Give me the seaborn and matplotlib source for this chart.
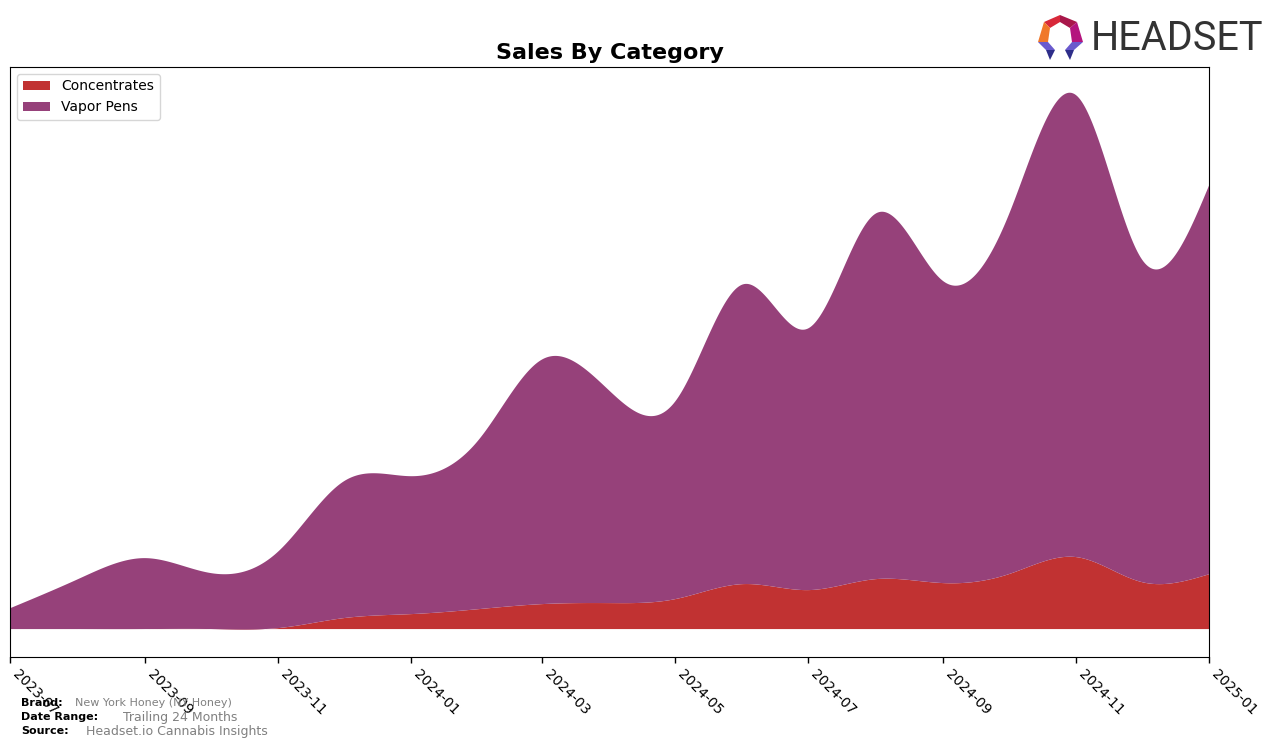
import numpy as np
import pandas as pd
import matplotlib
matplotlib.use("Agg")
import matplotlib.pyplot as plt
import matplotlib.dates as mdates
from matplotlib.patches import Polygon
import seaborn as sns

# ---------------- data ----------------
months = pd.date_range("2023-07-01", "2025-01-01", freq="MS")
concentrates = [0, 0, 0, 0, 1, 11, 15, 20, 25, 26, 30, 45, 39, 50, 46, 55, 72, 47, 55]
vapor_pens = [21, 50, 71, 56, 77, 137, 138, 170, 245, 212, 198, 300, 262, 366, 302, 360, 462, 323, 390]
series_names = ["Concentrates", "Vapor Pens"]
series_colors = ["#C13232", "#96417A"]

sns.set_style("white", rc={"axes.edgecolor": "black", "xtick.color": "black",
                           "xtick.bottom": True, "axes.linewidth": 1.0,
                           "text.color": "black", "axes.labelcolor": "black"})
plt.rcParams["font.family"] = ["DejaVu Sans"]


def natural_spline(x, y, xs):
    x = np.asarray(x, float)
    y = np.asarray(y, float)
    n = len(x)
    h = np.diff(x)
    A = np.zeros((n, n))
    b = np.zeros(n)
    A[0, 0] = 1
    A[-1, -1] = 1
    for i in range(1, n - 1):
        A[i, i - 1] = h[i - 1]
        A[i, i] = 2 * (h[i - 1] + h[i])
        A[i, i + 1] = h[i]
        b[i] = 3 * ((y[i + 1] - y[i]) / h[i] - (y[i] - y[i - 1]) / h[i - 1])
    c = np.linalg.solve(A, b)
    bb = np.zeros(n - 1)
    d = np.zeros(n - 1)
    for i in range(n - 1):
        bb[i] = (y[i + 1] - y[i]) / h[i] - h[i] * (2 * c[i] + c[i + 1]) / 3
        d[i] = (c[i + 1] - c[i]) / (3 * h[i])
    idx = np.clip(np.searchsorted(x, xs) - 1, 0, n - 2)
    dx = xs - x[idx]
    return y[idx] + bb[idx] * dx + c[idx] * dx ** 2 + d[idx] * dx ** 3


xnum = mdates.date2num(months)
xs = np.linspace(xnum[0], xnum[-1], 800)
conc_s = natural_spline(xnum, concentrates, xs)
vape_s = natural_spline(xnum, vapor_pens, xs)

fig = plt.figure(figsize=(12.76, 7.47), dpi=100)
ax = fig.add_axes([10 / 1276, 1 - 657 / 747, 1199 / 1276, 590 / 747])

ax.stackplot(xs, conc_s, vape_s, labels=series_names, colors=series_colors, linewidth=0)

top = (conc_s + vape_s).max()
ax.set_xlim(xnum[0], xnum[-1])
ax.set_ylim(-0.053 * top, 1.047 * top)
ax.set_yticks([])
ax.xaxis.set_major_locator(mdates.MonthLocator(bymonth=[1, 3, 5, 7, 9, 11]))
ax.xaxis.set_major_formatter(mdates.DateFormatter("%Y-%m"))
ax.tick_params(axis="x", length=4, width=1, labelsize=10, colors="black")
for lbl in ax.get_xticklabels():
    lbl.set_rotation(-45)
    lbl.set_ha("left")
    lbl.set_va("top")
for s in ax.spines.values():
    s.set_visible(True)
    s.set_color("black")

ax.set_title("Sales By Category", fontsize=16, fontweight="bold", pad=6, color="black")
ax.legend(loc="upper left", fontsize=10, frameon=True)

# footer
fig.text(21 / 1276, 1 - 703 / 747, "Brand:", fontsize=8, fontweight="bold", va="center")
fig.text(75 / 1276, 1 - 703 / 747, "New York Honey (NY Honey)", fontsize=8, color="gray", va="center")
fig.text(21 / 1276, 1 - 717 / 747, "Date Range:", fontsize=8, fontweight="bold", va="center")
fig.text(123 / 1276, 1 - 717 / 747, "Trailing 24 Months", fontsize=9, color="gray", va="center")
fig.text(21 / 1276, 1 - 731 / 747, "Source:", fontsize=8, fontweight="bold", va="center")
fig.text(86 / 1276, 1 - 731 / 747, "Headset.io Cannabis Insights", fontsize=9, color="gray", va="center")

# logo
fig.text(1091 / 1276, 1 - 39 / 747, "HEADSET", fontsize=28.5, color="#333333", va="center",
         ha="left", family=["Roboto", "DejaVu Sans"])


def P(pts):
    return [(px / 1276, 1 - py / 747) for px, py in pts]


logo_parts = [
    ([(1044, 22), (1060, 15), (1060, 22), (1050, 28)], "#D8283A"),
    ([(1060, 15), (1077, 22), (1070, 28), (1060, 22)], "#A8174A"),
    ([(1044, 22), (1050, 28), (1048, 42), (1038, 42)], "#F0782A"),
    ([(1077, 22), (1083, 42), (1072, 42), (1070, 28)], "#B4157E"),
    ([(1038, 42), (1048, 42), (1055, 50), (1046, 50)], "#6A5ACD"),
    ([(1046, 50), (1055, 50), (1050, 60)], "#2E2E8A"),
    ([(1083, 42), (1072, 42), (1065, 50), (1074, 50)], "#6A5ACD"),
    ([(1074, 50), (1065, 50), (1070, 60)], "#2E2E8A"),
]
for pts, col in logo_parts:
    fig.patches.append(Polygon(P(pts), closed=True, facecolor=col, edgecolor="none",
                               transform=fig.transFigure, figure=fig))

fig.savefig("out.png", dpi=100)
